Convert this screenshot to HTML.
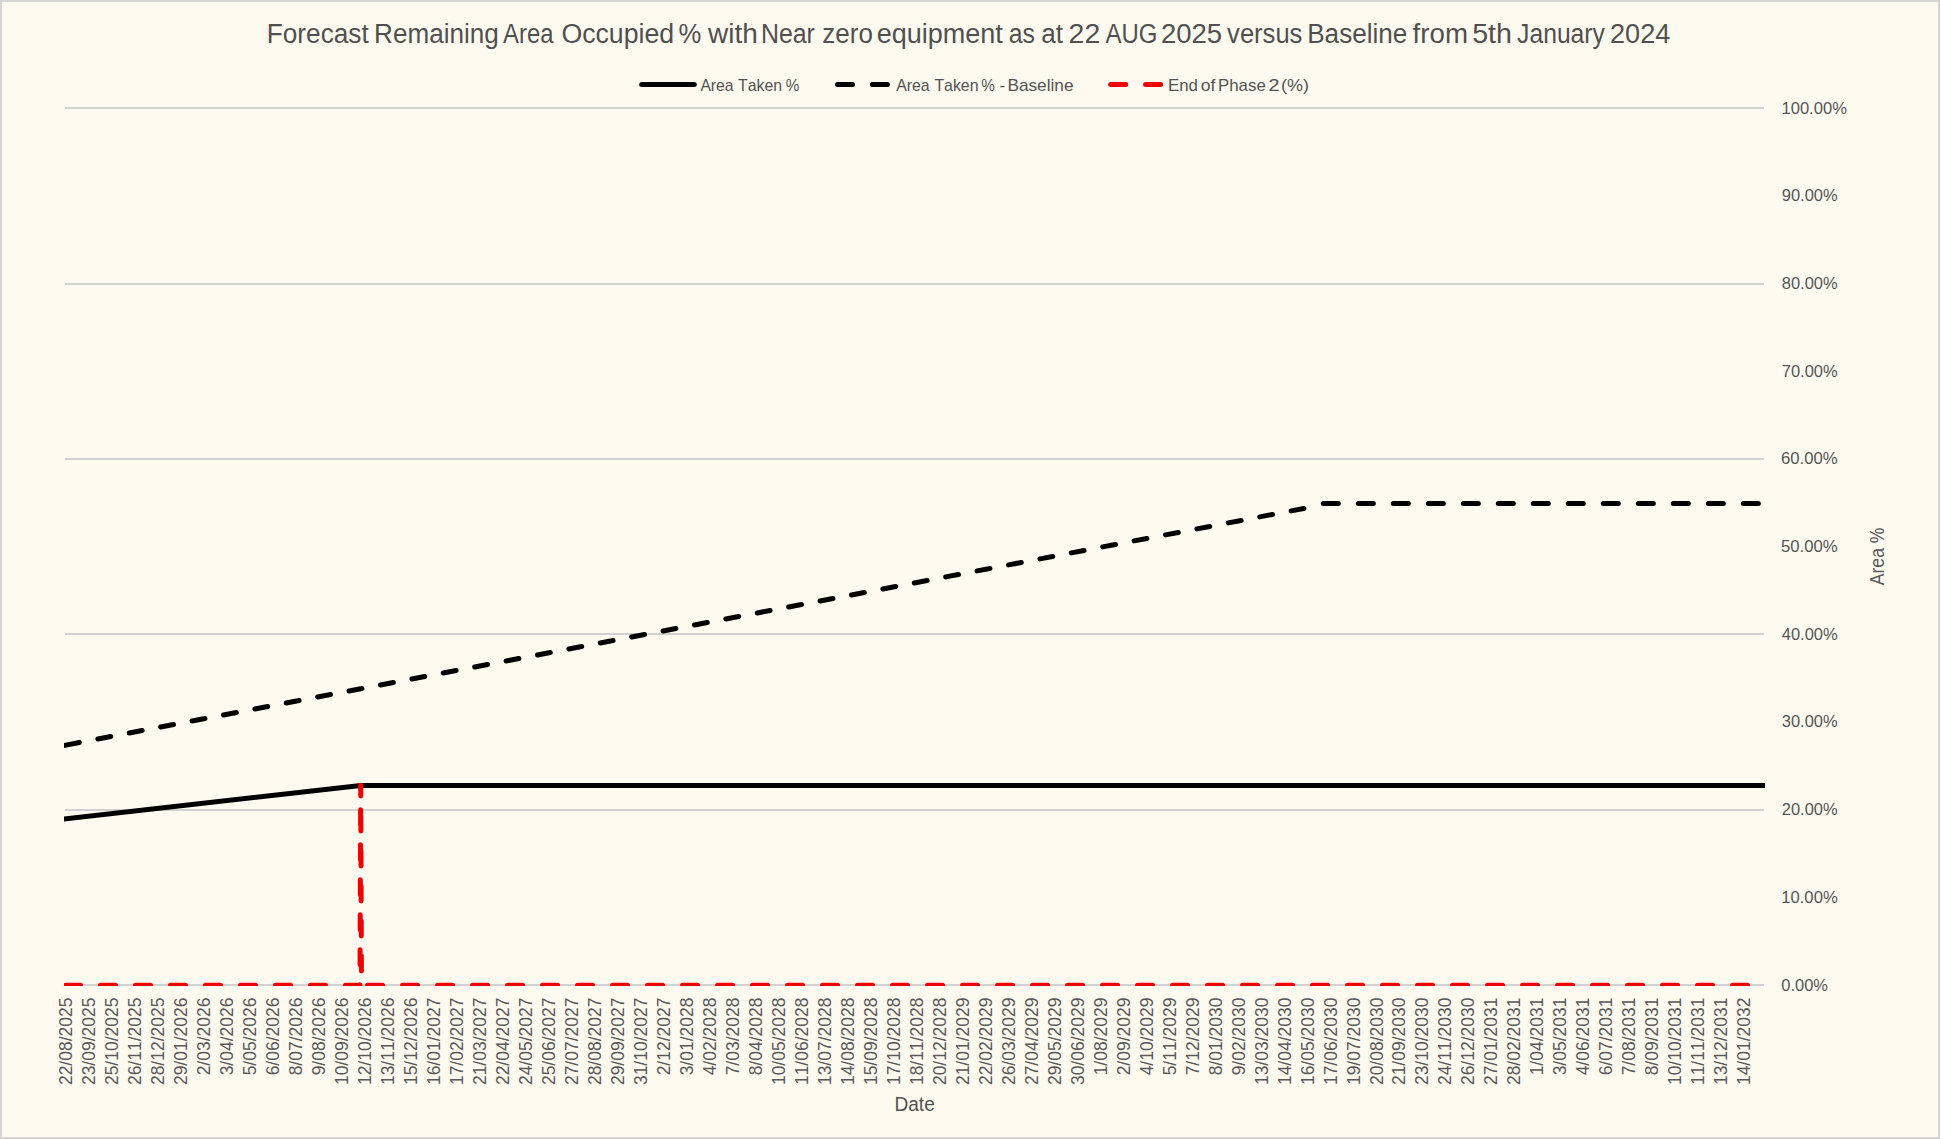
<!DOCTYPE html>
<html><head><meta charset="utf-8"><title>Forecast Remaining Area Occupied %</title>
<style>html,body{margin:0;padding:0;background:#fffaf0;width:1940px;height:1139px;overflow:hidden}</style>
</head><body>
<svg width="1940" height="1139" viewBox="0 0 1940 1139" style="display:block;position:absolute;left:0;top:0;font-kerning:none" font-family="Liberation Sans, Arial, sans-serif" fill="#595959">
<rect x="0" y="0" width="1940" height="1139" fill="#d4d4d4"/>
<rect x="2" y="2" width="1936" height="1135" fill="#fffaf0"/>
<rect x="65.0" y="107" width="1699.0" height="2" fill="#d1d1d2"/>
<rect x="65.0" y="283" width="1699.0" height="2" fill="#d1d1d2"/>
<rect x="65.0" y="458" width="1699.0" height="2" fill="#d1d1d2"/>
<rect x="65.0" y="633" width="1699.0" height="2" fill="#d1d1d2"/>
<rect x="65.0" y="809" width="1699.0" height="2" fill="#d1d1d2"/>
<rect x="65.0" y="984" width="1699.0" height="2" fill="#d1d1d2"/>
<text y="42.9" font-size="27" fill="#505050"><tspan x="266.80" textLength="101.90" lengthAdjust="spacingAndGlyphs">Forecast</tspan> <tspan x="374.10" textLength="124.70" lengthAdjust="spacingAndGlyphs">Remaining</tspan> <tspan x="503.10" textLength="50.30" lengthAdjust="spacingAndGlyphs">Area</tspan> <tspan x="561.40" textLength="112.70" lengthAdjust="spacingAndGlyphs">Occupied</tspan> <tspan x="678.50" textLength="22.80" lengthAdjust="spacingAndGlyphs">%</tspan> <tspan x="708.10" textLength="49.80" lengthAdjust="spacingAndGlyphs">with</tspan> <tspan x="760.90" textLength="54.00" lengthAdjust="spacingAndGlyphs">Near</tspan> <tspan x="822.30" textLength="50.60" lengthAdjust="spacingAndGlyphs">zero</tspan> <tspan x="876.70" textLength="126.20" lengthAdjust="spacingAndGlyphs">equipment</tspan> <tspan x="1008.80" textLength="26.20" lengthAdjust="spacingAndGlyphs">as</tspan> <tspan x="1041.30" textLength="21.80" lengthAdjust="spacingAndGlyphs">at</tspan> <tspan x="1068.60" textLength="31.60" lengthAdjust="spacingAndGlyphs">22</tspan> <tspan x="1105.60" textLength="51.90" lengthAdjust="spacingAndGlyphs">AUG</tspan> <tspan x="1160.90" textLength="61.20" lengthAdjust="spacingAndGlyphs">2025</tspan> <tspan x="1227.10" textLength="75.30" lengthAdjust="spacingAndGlyphs">versus</tspan> <tspan x="1307.20" textLength="100.20" lengthAdjust="spacingAndGlyphs">Baseline</tspan> <tspan x="1412.60" textLength="55.40" lengthAdjust="spacingAndGlyphs">from</tspan> <tspan x="1472.20" textLength="39.80" lengthAdjust="spacingAndGlyphs">5th</tspan> <tspan x="1517.10" textLength="87.80" lengthAdjust="spacingAndGlyphs">January</tspan> <tspan x="1610.00" textLength="60.30" lengthAdjust="spacingAndGlyphs">2024</tspan></text>
<line x1="641.7" y1="84.6" x2="694.3" y2="84.6" stroke="#000" stroke-width="5" stroke-linecap="round"/>
<text y="90.7" font-size="16.4" fill="#525252"><tspan x="700.40" textLength="33.20" lengthAdjust="spacingAndGlyphs">Area</tspan> <tspan x="738.10" textLength="44.10" lengthAdjust="spacingAndGlyphs">Taken</tspan> <tspan x="785.80" textLength="13.60" lengthAdjust="spacingAndGlyphs">%</tspan></text>
<line x1="837.5" y1="84.6" x2="852.5" y2="84.6" stroke="#000" stroke-width="5" stroke-linecap="round"/>
<line x1="872.4" y1="84.6" x2="887.4" y2="84.6" stroke="#000" stroke-width="5" stroke-linecap="round"/>
<text y="90.7" font-size="16.4" fill="#525252"><tspan x="896.20" textLength="33.50" lengthAdjust="spacingAndGlyphs">Area</tspan> <tspan x="934.40" textLength="44.10" lengthAdjust="spacingAndGlyphs">Taken</tspan> <tspan x="981.30" textLength="13.60" lengthAdjust="spacingAndGlyphs">%</tspan> <tspan x="999.50" textLength="5.70" lengthAdjust="spacingAndGlyphs">-</tspan> <tspan x="1007.40" textLength="66.10" lengthAdjust="spacingAndGlyphs">Baseline</tspan></text>
<line x1="1110.7" y1="84.6" x2="1125.7" y2="84.6" stroke="#f00000" stroke-width="5" stroke-linecap="round"/>
<line x1="1145.6" y1="84.6" x2="1160.6" y2="84.6" stroke="#f00000" stroke-width="5" stroke-linecap="round"/>
<text y="90.7" font-size="16.4" fill="#525252"><tspan x="1168.00" textLength="29.90" lengthAdjust="spacingAndGlyphs">End</tspan> <tspan x="1200.80" textLength="14.60" lengthAdjust="spacingAndGlyphs">of</tspan> <tspan x="1218.00" textLength="47.80" lengthAdjust="spacingAndGlyphs">Phase</tspan> <tspan x="1268.50" textLength="11.00" lengthAdjust="spacingAndGlyphs">2</tspan> <tspan x="1280.90" textLength="28.00" lengthAdjust="spacingAndGlyphs">(%)</tspan></text>
<text y="990.55" font-size="16.9" fill="#555555"><tspan x="1781.30" textLength="46.62" lengthAdjust="spacingAndGlyphs">0.00%</tspan></text>
<text y="902.85" font-size="16.9" fill="#555555"><tspan x="1781.24" textLength="56.46" lengthAdjust="spacingAndGlyphs">10.00%</tspan></text>
<text y="815.15" font-size="16.9" fill="#555555"><tspan x="1781.76" textLength="55.90" lengthAdjust="spacingAndGlyphs">20.00%</tspan></text>
<text y="727.45" font-size="16.9" fill="#555555"><tspan x="1781.76" textLength="55.90" lengthAdjust="spacingAndGlyphs">30.00%</tspan></text>
<text y="639.75" font-size="16.9" fill="#555555"><tspan x="1781.76" textLength="55.90" lengthAdjust="spacingAndGlyphs">40.00%</tspan></text>
<text y="552.05" font-size="16.9" fill="#555555"><tspan x="1780.96" textLength="56.70" lengthAdjust="spacingAndGlyphs">50.00%</tspan></text>
<text y="464.35" font-size="16.9" fill="#555555"><tspan x="1780.96" textLength="56.70" lengthAdjust="spacingAndGlyphs">60.00%</tspan></text>
<text y="376.65" font-size="16.9" fill="#555555"><tspan x="1781.76" textLength="55.90" lengthAdjust="spacingAndGlyphs">70.00%</tspan></text>
<text y="288.95" font-size="16.9" fill="#555555"><tspan x="1781.76" textLength="55.90" lengthAdjust="spacingAndGlyphs">80.00%</tspan></text>
<text y="201.25" font-size="16.9" fill="#555555"><tspan x="1781.76" textLength="55.90" lengthAdjust="spacingAndGlyphs">90.00%</tspan></text>
<text y="113.55" font-size="16.9" fill="#555555"><tspan x="1781.46" textLength="65.42" lengthAdjust="spacingAndGlyphs">100.00%</tspan></text>
<text y="1111" font-size="19.6" fill="#525252"><tspan x="894.44" textLength="40.33" lengthAdjust="spacingAndGlyphs">Date</tspan></text>
<text transform="translate(1884.3,585.2) rotate(-90)" font-size="19.8" textLength="57.6" lengthAdjust="spacingAndGlyphs">Area %</text>
<text transform="translate(72.30,997.5) rotate(-90)" font-size="17.5" text-anchor="end">22/08/2025</text>
<text transform="translate(95.29,997.5) rotate(-90)" font-size="17.5" text-anchor="end">23/09/2025</text>
<text transform="translate(118.27,997.5) rotate(-90)" font-size="17.5" text-anchor="end">25/10/2025</text>
<text transform="translate(141.26,997.5) rotate(-90)" font-size="17.5" text-anchor="end">26/11/2025</text>
<text transform="translate(164.24,997.5) rotate(-90)" font-size="17.5" text-anchor="end">28/12/2025</text>
<text transform="translate(187.23,997.5) rotate(-90)" font-size="17.5" text-anchor="end">29/01/2026</text>
<text transform="translate(210.22,997.5) rotate(-90)" font-size="17.5" text-anchor="end">2/03/2026</text>
<text transform="translate(233.20,997.5) rotate(-90)" font-size="17.5" text-anchor="end">3/04/2026</text>
<text transform="translate(256.19,997.5) rotate(-90)" font-size="17.5" text-anchor="end">5/05/2026</text>
<text transform="translate(279.17,997.5) rotate(-90)" font-size="17.5" text-anchor="end">6/06/2026</text>
<text transform="translate(302.16,997.5) rotate(-90)" font-size="17.5" text-anchor="end">8/07/2026</text>
<text transform="translate(325.15,997.5) rotate(-90)" font-size="17.5" text-anchor="end">9/08/2026</text>
<text transform="translate(348.13,997.5) rotate(-90)" font-size="17.5" text-anchor="end">10/09/2026</text>
<text transform="translate(371.12,997.5) rotate(-90)" font-size="17.5" text-anchor="end">12/10/2026</text>
<text transform="translate(394.10,997.5) rotate(-90)" font-size="17.5" text-anchor="end">13/11/2026</text>
<text transform="translate(417.09,997.5) rotate(-90)" font-size="17.5" text-anchor="end">15/12/2026</text>
<text transform="translate(440.08,997.5) rotate(-90)" font-size="17.5" text-anchor="end">16/01/2027</text>
<text transform="translate(463.06,997.5) rotate(-90)" font-size="17.5" text-anchor="end">17/02/2027</text>
<text transform="translate(486.05,997.5) rotate(-90)" font-size="17.5" text-anchor="end">21/03/2027</text>
<text transform="translate(509.03,997.5) rotate(-90)" font-size="17.5" text-anchor="end">22/04/2027</text>
<text transform="translate(532.02,997.5) rotate(-90)" font-size="17.5" text-anchor="end">24/05/2027</text>
<text transform="translate(555.01,997.5) rotate(-90)" font-size="17.5" text-anchor="end">25/06/2027</text>
<text transform="translate(577.99,997.5) rotate(-90)" font-size="17.5" text-anchor="end">27/07/2027</text>
<text transform="translate(600.98,997.5) rotate(-90)" font-size="17.5" text-anchor="end">28/08/2027</text>
<text transform="translate(623.96,997.5) rotate(-90)" font-size="17.5" text-anchor="end">29/09/2027</text>
<text transform="translate(646.95,997.5) rotate(-90)" font-size="17.5" text-anchor="end">31/10/2027</text>
<text transform="translate(669.94,997.5) rotate(-90)" font-size="17.5" text-anchor="end">2/12/2027</text>
<text transform="translate(692.92,997.5) rotate(-90)" font-size="17.5" text-anchor="end">3/01/2028</text>
<text transform="translate(715.91,997.5) rotate(-90)" font-size="17.5" text-anchor="end">4/02/2028</text>
<text transform="translate(738.89,997.5) rotate(-90)" font-size="17.5" text-anchor="end">7/03/2028</text>
<text transform="translate(761.88,997.5) rotate(-90)" font-size="17.5" text-anchor="end">8/04/2028</text>
<text transform="translate(784.87,997.5) rotate(-90)" font-size="17.5" text-anchor="end">10/05/2028</text>
<text transform="translate(807.85,997.5) rotate(-90)" font-size="17.5" text-anchor="end">11/06/2028</text>
<text transform="translate(830.84,997.5) rotate(-90)" font-size="17.5" text-anchor="end">13/07/2028</text>
<text transform="translate(853.82,997.5) rotate(-90)" font-size="17.5" text-anchor="end">14/08/2028</text>
<text transform="translate(876.81,997.5) rotate(-90)" font-size="17.5" text-anchor="end">15/09/2028</text>
<text transform="translate(899.80,997.5) rotate(-90)" font-size="17.5" text-anchor="end">17/10/2028</text>
<text transform="translate(922.78,997.5) rotate(-90)" font-size="17.5" text-anchor="end">18/11/2028</text>
<text transform="translate(945.77,997.5) rotate(-90)" font-size="17.5" text-anchor="end">20/12/2028</text>
<text transform="translate(968.75,997.5) rotate(-90)" font-size="17.5" text-anchor="end">21/01/2029</text>
<text transform="translate(991.74,997.5) rotate(-90)" font-size="17.5" text-anchor="end">22/02/2029</text>
<text transform="translate(1014.73,997.5) rotate(-90)" font-size="17.5" text-anchor="end">26/03/2029</text>
<text transform="translate(1037.71,997.5) rotate(-90)" font-size="17.5" text-anchor="end">27/04/2029</text>
<text transform="translate(1060.70,997.5) rotate(-90)" font-size="17.5" text-anchor="end">29/05/2029</text>
<text transform="translate(1083.68,997.5) rotate(-90)" font-size="17.5" text-anchor="end">30/06/2029</text>
<text transform="translate(1106.67,997.5) rotate(-90)" font-size="17.5" text-anchor="end">1/08/2029</text>
<text transform="translate(1129.66,997.5) rotate(-90)" font-size="17.5" text-anchor="end">2/09/2029</text>
<text transform="translate(1152.64,997.5) rotate(-90)" font-size="17.5" text-anchor="end">4/10/2029</text>
<text transform="translate(1175.63,997.5) rotate(-90)" font-size="17.5" text-anchor="end">5/11/2029</text>
<text transform="translate(1198.61,997.5) rotate(-90)" font-size="17.5" text-anchor="end">7/12/2029</text>
<text transform="translate(1221.60,997.5) rotate(-90)" font-size="17.5" text-anchor="end">8/01/2030</text>
<text transform="translate(1244.59,997.5) rotate(-90)" font-size="17.5" text-anchor="end">9/02/2030</text>
<text transform="translate(1267.57,997.5) rotate(-90)" font-size="17.5" text-anchor="end">13/03/2030</text>
<text transform="translate(1290.56,997.5) rotate(-90)" font-size="17.5" text-anchor="end">14/04/2030</text>
<text transform="translate(1313.54,997.5) rotate(-90)" font-size="17.5" text-anchor="end">16/05/2030</text>
<text transform="translate(1336.53,997.5) rotate(-90)" font-size="17.5" text-anchor="end">17/06/2030</text>
<text transform="translate(1359.52,997.5) rotate(-90)" font-size="17.5" text-anchor="end">19/07/2030</text>
<text transform="translate(1382.50,997.5) rotate(-90)" font-size="17.5" text-anchor="end">20/08/2030</text>
<text transform="translate(1405.49,997.5) rotate(-90)" font-size="17.5" text-anchor="end">21/09/2030</text>
<text transform="translate(1428.47,997.5) rotate(-90)" font-size="17.5" text-anchor="end">23/10/2030</text>
<text transform="translate(1451.46,997.5) rotate(-90)" font-size="17.5" text-anchor="end">24/11/2030</text>
<text transform="translate(1474.45,997.5) rotate(-90)" font-size="17.5" text-anchor="end">26/12/2030</text>
<text transform="translate(1497.43,997.5) rotate(-90)" font-size="17.5" text-anchor="end">27/01/2031</text>
<text transform="translate(1520.42,997.5) rotate(-90)" font-size="17.5" text-anchor="end">28/02/2031</text>
<text transform="translate(1543.40,997.5) rotate(-90)" font-size="17.5" text-anchor="end">1/04/2031</text>
<text transform="translate(1566.39,997.5) rotate(-90)" font-size="17.5" text-anchor="end">3/05/2031</text>
<text transform="translate(1589.38,997.5) rotate(-90)" font-size="17.5" text-anchor="end">4/06/2031</text>
<text transform="translate(1612.36,997.5) rotate(-90)" font-size="17.5" text-anchor="end">6/07/2031</text>
<text transform="translate(1635.35,997.5) rotate(-90)" font-size="17.5" text-anchor="end">7/08/2031</text>
<text transform="translate(1658.33,997.5) rotate(-90)" font-size="17.5" text-anchor="end">8/09/2031</text>
<text transform="translate(1681.32,997.5) rotate(-90)" font-size="17.5" text-anchor="end">10/10/2031</text>
<text transform="translate(1704.31,997.5) rotate(-90)" font-size="17.5" text-anchor="end">11/11/2031</text>
<text transform="translate(1727.29,997.5) rotate(-90)" font-size="17.5" text-anchor="end">13/12/2031</text>
<text transform="translate(1750.28,997.5) rotate(-90)" font-size="17.5" text-anchor="end">14/01/2032</text>
<clipPath id="c"><rect x="64" y="100" width="1701" height="886"/></clipPath>
<g clip-path="url(#c)" fill="none" stroke-linecap="round" stroke-linejoin="round" stroke-width="5">
<path d="M62 819.20 L360.70 785.44 L1766 785.44" stroke="#000" stroke-linecap="butt"/>
<line x1="61.00" y1="746.07" x2="79.30" y2="742.57" stroke="#000"/>
<line x1="97.90" y1="739.01" x2="110.70" y2="736.57" stroke="#000"/>
<line x1="129.30" y1="733.01" x2="142.10" y2="730.56" stroke="#000"/>
<line x1="160.70" y1="727.01" x2="173.50" y2="724.56" stroke="#000"/>
<line x1="192.10" y1="721.00" x2="204.90" y2="718.56" stroke="#000"/>
<line x1="223.50" y1="715.00" x2="236.30" y2="712.55" stroke="#000"/>
<line x1="254.90" y1="709.00" x2="267.70" y2="706.55" stroke="#000"/>
<line x1="286.30" y1="702.99" x2="299.10" y2="700.54" stroke="#000"/>
<line x1="317.70" y1="696.99" x2="330.50" y2="694.54" stroke="#000"/>
<line x1="349.10" y1="690.98" x2="361.90" y2="688.54" stroke="#000"/>
<line x1="380.50" y1="684.98" x2="393.30" y2="682.53" stroke="#000"/>
<line x1="411.90" y1="678.98" x2="424.70" y2="676.53" stroke="#000"/>
<line x1="443.30" y1="672.97" x2="456.10" y2="670.53" stroke="#000"/>
<line x1="474.70" y1="666.97" x2="487.50" y2="664.52" stroke="#000"/>
<line x1="506.10" y1="660.97" x2="518.90" y2="658.52" stroke="#000"/>
<line x1="537.50" y1="654.96" x2="550.30" y2="652.52" stroke="#000"/>
<line x1="568.90" y1="648.96" x2="581.70" y2="646.51" stroke="#000"/>
<line x1="600.30" y1="642.96" x2="613.10" y2="640.51" stroke="#000"/>
<line x1="631.70" y1="636.95" x2="644.50" y2="634.50" stroke="#000"/>
<line x1="663.10" y1="630.95" x2="675.90" y2="628.50" stroke="#000"/>
<line x1="694.50" y1="624.94" x2="707.30" y2="622.50" stroke="#000"/>
<line x1="725.90" y1="618.94" x2="738.70" y2="616.49" stroke="#000"/>
<line x1="757.30" y1="612.94" x2="770.10" y2="610.49" stroke="#000"/>
<line x1="788.70" y1="606.93" x2="801.50" y2="604.49" stroke="#000"/>
<line x1="820.10" y1="600.93" x2="832.90" y2="598.48" stroke="#000"/>
<line x1="851.50" y1="594.93" x2="864.30" y2="592.48" stroke="#000"/>
<line x1="882.90" y1="588.92" x2="895.70" y2="586.47" stroke="#000"/>
<line x1="914.30" y1="582.92" x2="927.10" y2="580.47" stroke="#000"/>
<line x1="945.70" y1="576.91" x2="958.50" y2="574.47" stroke="#000"/>
<line x1="977.10" y1="570.91" x2="989.90" y2="568.46" stroke="#000"/>
<line x1="1008.50" y1="564.91" x2="1021.30" y2="562.46" stroke="#000"/>
<line x1="1039.90" y1="558.90" x2="1052.70" y2="556.46" stroke="#000"/>
<line x1="1071.30" y1="552.90" x2="1084.10" y2="550.45" stroke="#000"/>
<line x1="1102.70" y1="546.90" x2="1115.50" y2="544.45" stroke="#000"/>
<line x1="1134.10" y1="540.89" x2="1146.90" y2="538.45" stroke="#000"/>
<line x1="1165.50" y1="534.89" x2="1178.30" y2="532.44" stroke="#000"/>
<line x1="1196.90" y1="528.89" x2="1209.70" y2="526.44" stroke="#000"/>
<line x1="1228.30" y1="522.88" x2="1241.10" y2="520.43" stroke="#000"/>
<line x1="1259.70" y1="516.88" x2="1272.50" y2="514.43" stroke="#000"/>
<line x1="1291.10" y1="510.87" x2="1303.90" y2="508.43" stroke="#000"/>
<line x1="1323.30" y1="503.6" x2="1338.30" y2="503.6" stroke="#000"/>
<line x1="1358.30" y1="503.6" x2="1373.30" y2="503.6" stroke="#000"/>
<line x1="1393.30" y1="503.6" x2="1408.30" y2="503.6" stroke="#000"/>
<line x1="1428.30" y1="503.6" x2="1443.30" y2="503.6" stroke="#000"/>
<line x1="1463.30" y1="503.6" x2="1478.30" y2="503.6" stroke="#000"/>
<line x1="1498.30" y1="503.6" x2="1513.30" y2="503.6" stroke="#000"/>
<line x1="1533.30" y1="503.6" x2="1548.30" y2="503.6" stroke="#000"/>
<line x1="1568.30" y1="503.6" x2="1583.30" y2="503.6" stroke="#000"/>
<line x1="1603.30" y1="503.6" x2="1618.30" y2="503.6" stroke="#000"/>
<line x1="1638.30" y1="503.6" x2="1653.30" y2="503.6" stroke="#000"/>
<line x1="1673.30" y1="503.6" x2="1688.30" y2="503.6" stroke="#000"/>
<line x1="1708.30" y1="503.6" x2="1723.30" y2="503.6" stroke="#000"/>
<line x1="1743.30" y1="503.6" x2="1758.30" y2="503.6" stroke="#000"/>
<path d="M65.5 985.3 L360.00 985.3 L360.73 785.34 L361.46 985.3" stroke="#f00000" stroke-dasharray="15 20"/>
<path d="M361.46 985.3 L1770 985.3" stroke="#f00000" stroke-dasharray="15 20" stroke-dashoffset="-6.09"/>
</g>
</svg>
</body></html>
